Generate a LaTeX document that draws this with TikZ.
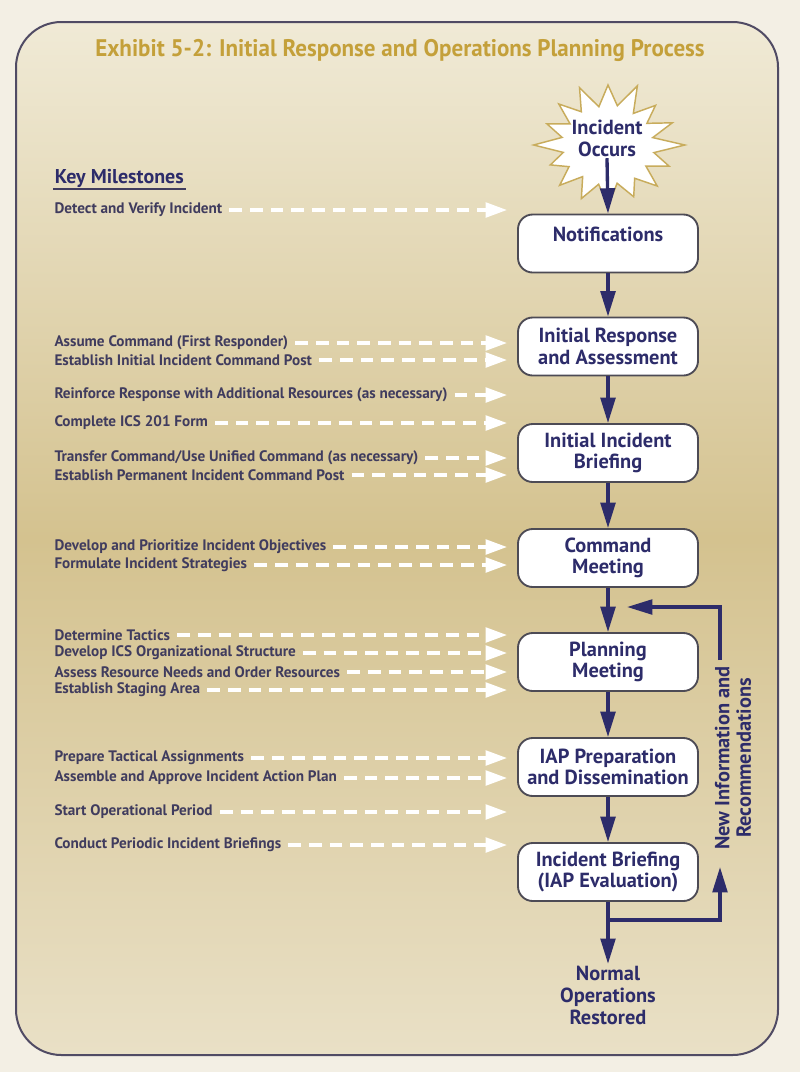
\documentclass[tikz,border=0pt]{standalone}
\usepackage{fontspec}
\setmainfont{PT Sans}
\usepackage{graphicx}
\usetikzlibrary{arrows.meta}

\definecolor{navy}{RGB}{45,44,106}
\definecolor{inkgrey}{RGB}{64,60,94}
\definecolor{titlegold}{RGB}{196,160,58}
\definecolor{burstgold}{RGB}{200,172,92}
\definecolor{framegrey}{RGB}{80,75,100}
\definecolor{boxgrey}{RGB}{77,75,85}
\definecolor{paper}{RGB}{243,239,228}
\definecolor{tantop}{RGB}{240,234,214}
\definecolor{tanmid}{RGB}{212,194,143}
\definecolor{tanbot}{RGB}{233,224,198}

\tikzset{every picture/.style={line width=0.75pt}}
\tikzset{
  stepbox/.style={draw=boxgrey,line width=1.4pt,fill=white,rounded corners=11pt,minimum width=135pt,minimum height=43.5pt,align=center,text=navy,font=\fontsize{15.3}{16}\selectfont\bfseries,inner sep=2pt},
  flow/.style={draw=navy,line width=2.5pt,-{Triangle[width=11pt,length=19pt]}},
  mstone/.style={anchor=west,inner sep=0pt,text=inkgrey,font=\fontsize{11.4}{12}\selectfont\bfseries},
  milearrow/.style={draw=white,line width=2.4pt,dash pattern=on 9.5pt off 6pt,-{Triangle[width=11pt,length=16pt]},shorten <=5pt},
  plainnote/.style={align=center,text=navy,font=\fontsize{15.3}{16.5}\selectfont\bfseries,inner sep=1pt},
}

\begin{document}
\begin{tikzpicture}[x=0.75pt,y=0.75pt,yscale=-1,xscale=1]
\useasboundingbox (0,0) rectangle (800,1072);

%Shape: Background
\fill [paper] (0,0) rectangle (800,1072);
%Shape: Frame
\shadedraw [top color=tantop,bottom color=tanbot,middle color=tanmid,draw=framegrey,line width=1.5pt,rounded corners=34pt] (16,22) rectangle (778,1055);

% Text Node
\node [text=titlegold,font=\fontsize{18}{20}\selectfont\bfseries,inner sep=0pt] (title) at (400,50) {\scalebox{0.96}[1]{Exhibit 5-2: Initial Response and Operations Planning Process}};

%Shape: Star
\begin{scope}[shift={(608,145)},xscale=1.2]
\draw [fill=white,draw=burstgold,line width=1.1pt] (0:64) -- (11.25:39) -- (22.5:55) -- (33.75:38) -- (45:58) -- (56.25:40) -- (67.5:56) -- (78.75:39) -- (90:61) -- (101.25:40) -- (112.5:58) -- (123.75:38) -- (135:57) -- (146.25:39) -- (157.5:52) -- (168.75:38) -- (180:62) -- (191.25:39) -- (202.5:55) -- (213.75:38) -- (225:58) -- (236.25:40) -- (247.5:62) -- (258.75:39) -- (270:60) -- (281.25:40) -- (292.5:64) -- (303.75:38) -- (315:56) -- (326.25:39) -- (337.5:58) -- (348.75:38) -- cycle ;
\end{scope}
% Text Node
\node [plainnote,font=\fontsize{15.3}{16.5}\selectfont\bfseries] (incident) at (607,138) {Incident\\Occurs};

% Step Boxes
\node [stepbox,text depth=14pt] (notif) at (608,243.5) {Notifications};
\node [stepbox] (resp) at (608,346.5) {Initial Response\\and Assessment};
\node [stepbox] (brief) at (608,453) {Initial Incident\\Briefing};
\node [stepbox] (cmd) at (608,558) {Command\\Meeting};
\node [stepbox] (plan) at (608,662) {Planning\\Meeting};
\node [stepbox] (iap) at (608,767) {IAP Preparation\\and Dissemination};
\node [stepbox] (ib) at (608,872) {Incident Briefing\\(IAP Evaluation)};
% Text Node
\node [plainnote] (normal) at (608,995) {Normal\\Operations\\Restored};

%Straight Lines
\draw [flow] (incident.south) -- (notif.north);
\draw [flow] (notif.south) -- (resp.north);
\draw [flow] (resp.south) -- (brief.north);
\draw [flow] (brief.south) -- (cmd.north);
\draw [flow] (cmd.south) -- (plan.north);
\draw [flow] (plan.south) -- (iap.north);
\draw [flow] (iap.south) -- (ib.north);
\draw [flow] (ib.south) -- (normal.north);

% Feedback loop
\coordinate (fork) at (608,920);
\coordinate (fbright) at (720,920);
\coordinate (fbup) at (720,867);
\coordinate (fbtop) at (720,660);
\coordinate (fbcorner) at (720,607);
\coordinate (fbin) at (627,607);
\draw [flow] (fork) -- (fbright) -- (fbup);
\draw [flow] (fbtop) -- (fbcorner) -- (fbin);
% Text Node
\node [plainnote,rotate=90,font=\fontsize{15.3}{16}\selectfont\bfseries] (newinfo) at (733,758) {New Information and\\Recommendations};

% Key Milestones
\node [anchor=west,inner sep=1pt,text=navy,font=\fontsize{15}{16}\selectfont\bfseries] (keyms) at (53,178) {Key Milestones};
\draw [draw=inkgrey,line width=1.5pt] (keyms.south west) -- (keyms.south east);
\coordinate (tipx) at (507,0);

% Text Node
\node [mstone] (ms1) at (54,210) {Detect and Verify Incident};
\node [mstone] (ms2) at (54,343) {Assume Command (First Responder)};
\node [mstone] (ms3) at (54,360) {Establish Initial Incident Command Post};
\node [mstone] (ms4) at (54,395) {Reinforce Response with Additional Resources (as necessary)};
\node [mstone] (ms5) at (54,423) {Complete ICS 201 Form};
\node [mstone] (ms6) at (54,458) {Transfer Command/Use Unified Command (as necessary)};
\node [mstone] (ms7) at (54,475) {Establish Permanent Incident Command Post};
\node [mstone] (ms8) at (54,547) {Develop and Prioritize Incident Objectives};
\node [mstone] (ms9) at (54,565) {Formulate Incident Strategies};
\node [mstone] (ms10) at (54,635) {Determine Tactics};
\node [mstone] (ms11) at (54,653) {Develop ICS Organizational Structure};
\node [mstone] (ms12) at (54,672) {Assess Resource Needs and Order Resources};
\node [mstone] (ms13) at (54,690) {Establish Staging Area};
\node [mstone] (ms14) at (54,758) {Prepare Tactical Assignments};
\node [mstone] (ms15) at (54,778) {Assemble and Approve Incident Action Plan};
\node [mstone] (ms16) at (54,812) {Start Operational Period};
\node [mstone] (ms17) at (54,845) {Conduct Periodic Incident Briefings};

%Straight Lines
\draw [milearrow] (ms1.east) -- (ms1.east -| tipx);
\draw [milearrow] (ms2.east) -- (ms2.east -| tipx);
\draw [milearrow] (ms3.east) -- (ms3.east -| tipx);
\draw [milearrow] (ms4.east) -- (ms4.east -| tipx);
\draw [milearrow] (ms5.east) -- (ms5.east -| tipx);
\draw [milearrow] (ms6.east) -- (ms6.east -| tipx);
\draw [milearrow] (ms7.east) -- (ms7.east -| tipx);
\draw [milearrow] (ms8.east) -- (ms8.east -| tipx);
\draw [milearrow] (ms9.east) -- (ms9.east -| tipx);
\draw [milearrow] (ms10.east) -- (ms10.east -| tipx);
\draw [milearrow] (ms11.east) -- (ms11.east -| tipx);
\draw [milearrow] (ms12.east) -- (ms12.east -| tipx);
\draw [milearrow] (ms13.east) -- (ms13.east -| tipx);
\draw [milearrow] (ms14.east) -- (ms14.east -| tipx);
\draw [milearrow] (ms15.east) -- (ms15.east -| tipx);
\draw [milearrow] (ms16.east) -- (ms16.east -| tipx);
\draw [milearrow] (ms17.east) -- (ms17.east -| tipx);

\end{tikzpicture}
\end{document}
